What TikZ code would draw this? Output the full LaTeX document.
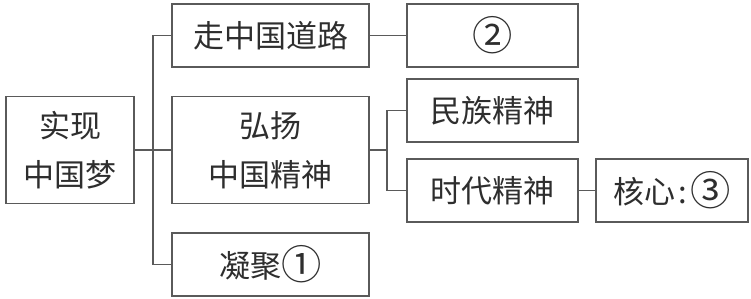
\documentclass[tikz,border=0pt]{standalone}
\usepackage{fontspec}
\setmainfont{Noto Sans CJK SC}
\newcommand{\circnum}[1]{\raisebox{-0.08em}{\scalebox{1.3}{#1}}}
\begin{document}
\begin{tikzpicture}[x=1pt,y=-1pt,
  box/.style={draw=linec,line width=1.3pt,inner sep=0pt,align=center,text=textc,
    font=\fontsize{31}{49}\selectfont},
  conn/.style={draw=linec,line width=1.2pt}]
\definecolor{linec}{HTML}{5A5A5A}
\definecolor{textc}{HTML}{2E2E2E}
\useasboundingbox (0,0) rectangle (751,299);
\node[box,minimum width=128pt,minimum height=107pt] (root) at (70,150) {实现\\中国梦};
\node[box,minimum width=197pt,minimum height=63pt] (a) at (270.5,35.5) {走中国道路};
\node[box,minimum width=197pt,minimum height=107pt] (b) at (270.5,150) {弘扬\\中国精神};
\node[box,minimum width=197pt,minimum height=63pt] (c) at (270.5,264.5) {凝聚\circnum{①}};
\node[box,minimum width=171pt,minimum height=63pt] (n2) at (492.5,35.5) {\circnum{②}};
\node[box,minimum width=171pt,minimum height=63pt] (mz) at (492.5,110.5) {民族精神};
\node[box,minimum width=171pt,minimum height=63pt] (sd) at (492.5,190.5) {时代精神};
\node[box,minimum width=152pt,minimum height=63pt] (hx) at (672,190.5) {核心\hspace{3pt}:\hspace{4pt}\circnum{③}};
\coordinate (t1) at (153,150);
\coordinate (t2) at (387,150);
\draw[conn] (a.west) -| (t1) |- (c.west);
\draw[conn] (root.east) -- (b.west);
\draw[conn] (b.east) -- (t2);
\draw[conn] (mz.west) -| (t2) |- (sd.west);
\draw[conn] (a.east) -- (n2.west);
\draw[conn] (sd.east) -- (hx.west);
\end{tikzpicture}
\end{document}
